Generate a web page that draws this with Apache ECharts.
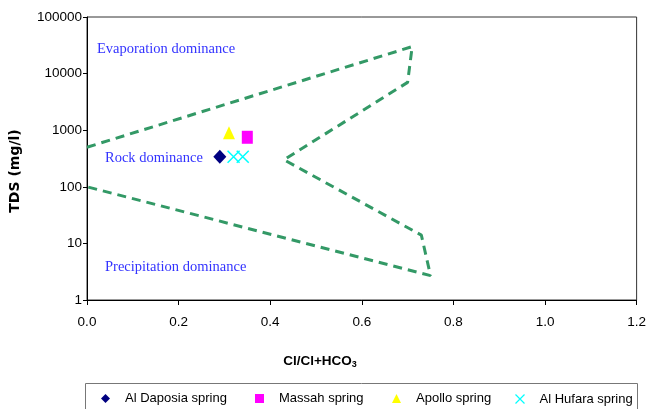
<!DOCTYPE html>
<html>
<head>
<meta charset="utf-8">
<script src="https://cdn.jsdelivr.net/npm/echarts@6/dist/echarts.min.js"></script>
<style>
  html, body { margin: 0; padding: 0; background: #fff; }
  #main { width: 649px; height: 409px; }
</style>
</head>
<body>
<div id="main"></div>
<script>
// envelope of the Gibbs diagram (Cl/(Cl+HCO3), TDS mg/l)
var envelopeX = [0, 0.71, 0.70, 0.43, 0.73, 0.75, 0];
var envelopeY = [500, 30000, 7000, 300, 14, 2.7, 100];

// springs
var daposiaX = [0.29];
var daposiaY = [340];
var massahX = [0.35];
var massahY = [750];
var apolloX = [0.31];
var apolloY = [900];
var hufaraX = [0.32, 0.34];
var hufaraY = [340, 340];

var xTicks = [0, 0.2, 0.4, 0.6, 0.8, 1.0, 1.2];
var yTicks = [1, 10, 100, 1000, 10000, 100000];

function pairs(xs, ys) {
    return xs.map(function (x, i) { return [x, ys[i]]; });
}

var crossPath = 'path://M0,0L10,10M10,0L0,10';
var sansFont = 'Liberation Sans, Arial, sans-serif';
var serifFont = 'Liberation Serif, Times New Roman, serif';

var chart = echarts.init(document.getElementById('main'));

// one legend per item so each sits where the original has it
function legendAt(left, name, icon, itemStyle) {
    return {
        left: left,
        top: 392,
        padding: 0,
        itemWidth: 9,
        itemHeight: 9,
        itemGap: 0,
        textStyle: { fontFamily: sansFont, fontSize: 13, color: '#000', padding: [0, 0, 0, 10] },
        data: [{ name: name, icon: icon, itemStyle: itemStyle }]
    };
}

var option = {
    animation: false,
    backgroundColor: '#fff',
    grid: {
        left: 87, top: 17, right: 11, bottom: 109,
        show: true, borderColor: '#333', borderWidth: 1
    },
    xAxis: {
        type: 'value',
        min: xTicks[0],
        max: xTicks[xTicks.length - 1],
        interval: 0.2,
        axisLine: { lineStyle: { color: '#000', width: 1 } },
        axisTick: { show: true, length: 5, lineStyle: { color: '#000' } },
        splitLine: { show: false },
        axisLabel: {
            margin: 15,
            color: '#000', fontFamily: sansFont, fontSize: 13.5,
            formatter: function (v) { return v.toFixed(1); }
        }
    },
    yAxis: {
        type: 'log',
        logBase: 10,
        min: yTicks[0],
        max: yTicks[yTicks.length - 1],
        axisLine: { show: true, lineStyle: { color: '#000', width: 1 } },
        axisTick: { show: true, length: 4, lineStyle: { color: '#000' } },
        splitLine: { show: false },
        axisLabel: {
            margin: 5,
            color: '#000', fontFamily: sansFont, fontSize: 13.5,
            formatter: function (v) { return String(Math.round(v)); }
        }
    },
    legend: [
        legendAt(101, 'Al Daposia spring', 'diamond', { color: '#000080' }),
        legendAt(255, 'Massah spring', 'rect', { color: '#ff00ff' }),
        legendAt(392, 'Apollo spring', 'triangle', { color: '#ffff00' }),
        legendAt(513, 'Al Hufara spring', crossPath, { color: 'none', borderColor: '#00ffff', borderWidth: 1.2 })
    ],
    graphic: [
        {
            type: 'rect', silent: true, z: 0,
            shape: { x: 85.5, y: 383.5, width: 552, height: 40 },
            style: { fill: 'none', stroke: '#777', lineWidth: 1 }
        },
        {
            type: 'text', x: 97, y: 49,
            style: { text: 'Evaporation dominance', fill: '#3333ff', font: '14.5px ' + serifFont, verticalAlign: 'middle' }
        },
        {
            type: 'text', x: 105, y: 158,
            style: { text: 'Rock dominance', fill: '#3333ff', font: '14.5px ' + serifFont, verticalAlign: 'middle' }
        },
        {
            type: 'text', x: 105, y: 267,
            style: { text: 'Precipitation dominance', fill: '#3333ff', font: '14.5px ' + serifFont, verticalAlign: 'middle' }
        },
        {
            type: 'text', x: 15, y: 171, rotation: Math.PI / 2,
            style: { text: 'TDS (mg/l)', fill: '#000', font: 'bold 14px DejaVu Sans, sans-serif', align: 'center', verticalAlign: 'middle' }
        },
        {
            type: 'text', x: 320, y: 361,
            style: {
                text: '{a|Cl/Cl+HCO}{b|3}',
                align: 'center', verticalAlign: 'middle',
                rich: {
                    a: { fontFamily: sansFont, fontWeight: 'bold', fontSize: 13.5, color: '#000' },
                    b: { fontFamily: sansFont, fontWeight: 'bold', fontSize: 9, color: '#000', padding: [8, 0, 0, 0] }
                }
            }
        }
    ],
    series: [
        {
            name: 'envelope',
            type: 'line',
            data: pairs(envelopeX, envelopeY),
            symbol: 'none',
            silent: true,
            lineStyle: { color: '#339966', width: 3, type: [9, 6] },
            z: 1
        },
        {
            name: 'Al Daposia spring',
            type: 'scatter',
            data: pairs(daposiaX, daposiaY),
            symbol: 'diamond',
            symbolSize: [13, 14],
            itemStyle: { color: '#000080', opacity: 1 },
            z: 3
        },
        {
            name: 'Massah spring',
            type: 'scatter',
            data: pairs(massahX, massahY),
            symbol: 'rect',
            symbolSize: [11, 13],
            itemStyle: { color: '#ff00ff', opacity: 1 },
            z: 3
        },
        {
            name: 'Apollo spring',
            type: 'scatter',
            data: pairs(apolloX, apolloY),
            symbol: 'triangle',
            symbolSize: [12, 13],
            itemStyle: { color: '#ffff00', opacity: 1 },
            z: 3
        },
        {
            name: 'Al Hufara spring',
            type: 'scatter',
            data: pairs(hufaraX, hufaraY),
            symbol: crossPath,
            symbolSize: 12,
            itemStyle: { color: 'none', borderColor: '#00ffff', borderWidth: 1.5, opacity: 1 },
            z: 3
        }
    ]
};

chart.setOption(option);
</script>
</body>
</html>
